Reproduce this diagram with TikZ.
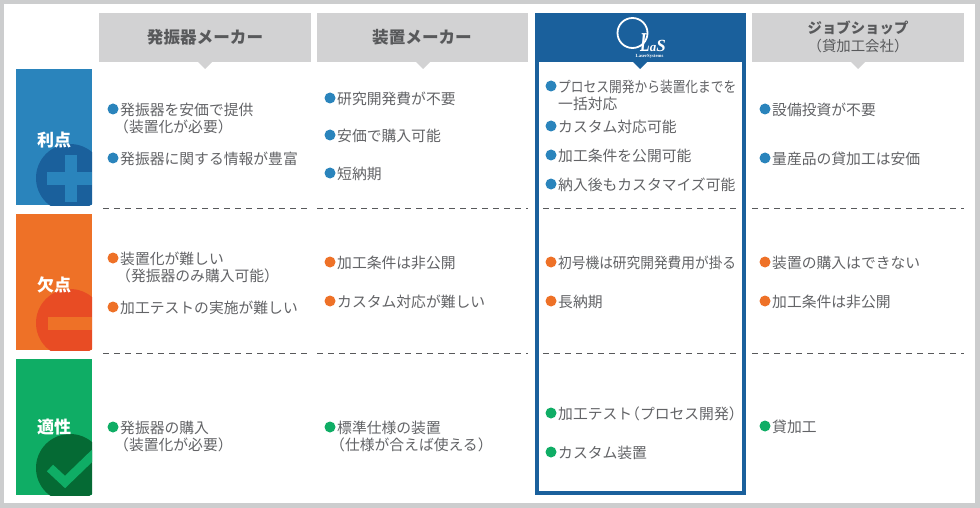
\documentclass[tikz,border=0pt]{standalone}
\usepackage{fontspec}
\setmainfont{Noto Sans CJK JP}
\newfontfamily\lasfont{Liberation Serif}
\definecolor{framegray}{HTML}{CCCDCE}
\definecolor{headgray}{HTML}{D2D2D3}
\definecolor{inkgray}{HTML}{58595B}
\definecolor{itemgray}{HTML}{626366}
\definecolor{lasblue}{HTML}{1A609C}
\definecolor{plusblue}{HTML}{2A84BC}
\definecolor{minusorange}{HTML}{EE7127}
\definecolor{minusred}{HTML}{E84C24}
\definecolor{fitgreen}{HTML}{0FAD65}
\definecolor{fitdark}{HTML}{056A34}
\tikzset{
	headtext/.style={text=inkgray,font=\fontsize{16.6}{18}\selectfont\bfseries,align=center},
	rowtext/.style={text=white,font=\fontsize{17}{19}\selectfont\bfseries},
	itemtext/.style={anchor=west,inner sep=0pt,yshift=-0.8pt,text=itemgray,align=left,font=\fontsize{14.8}{17}\selectfont},
	dot/.style={circle,inner sep=0pt,minimum size=11pt},
	dotblue/.style={dot,fill=plusblue},
	dotorange/.style={dot,fill=minusorange},
	dotgreen/.style={dot,fill=fitgreen},
	rowline/.style={inkgray,line width=0.9pt,dash pattern=on5.5pt off5.5pt}
}

\begin{document}
\begin{tikzpicture}[x=1pt,y=-1pt]
	\useasboundingbox (0,0) rectangle (980,508);
	% frame
	\fill[framegray] (0,0) rectangle (980,508);
	\fill[white] (4,4) rectangle (975,503);
	% headers
	\fill[headgray] (99,13) rectangle (311,62);
	\fill[headgray] (198,62) -- (212,62) -- (205,69) -- cycle;
	\fill[headgray] (317,13) rectangle (528,62);
	\fill[headgray] (416,62) -- (430,62) -- (423,69) -- cycle;
	\fill[headgray] (752,13) rectangle (964,62);
	\fill[headgray] (851,62) -- (865,62) -- (858,69) -- cycle;
	\node[headtext] (oscillator) at (205,37) {発振器メーカー};
	\node[headtext] (equipment) at (422,37) {装置メーカー};
	\node[headtext,font=\fontsize{14.4}{16}\selectfont\bfseries] (jobshop) at (858,28) {ジョブショップ};
	\node[headtext,font=\fontsize{14.4}{16}\selectfont] (jobshopsub) at (858,46) {（貸加工会社）};
	% las column
	\fill[lasblue] (535,13) rectangle (746,495);
	\fill[white] (539,62) rectangle (742,491);
	\fill[lasblue] (633,62) -- (647,62) -- (640,69) -- cycle;
	\draw[white,line width=1.8pt] (632.5,33) circle (15);
	\node[text=white,inner sep=0pt,anchor=base west,font=\lasfont\bfseries\itshape\fontsize{21}{21}\selectfont] (las) at (640,51.5) {\scalebox{.75}[1.3]{L}{\fontsize{13}{13}\selectfont a}{\fontsize{17}{17}\selectfont S}};
	\node[text=white,inner sep=0pt,font=\lasfont\bfseries\fontsize{4.7}{5}\selectfont] (lassub) at (649.5,56.5) {LaserSystems};
	% row boxes
	\fill[plusblue] (16,69) rectangle (92,205);
	\begin{scope}
		\clip (16,69) rectangle (92,205);
		\fill[lasblue] (70,178) circle (34);
		\fill[plusblue] (47,172.5) rectangle (92,185);
		\fill[plusblue] (64.5,155) rectangle (77,202);
	\end{scope}
	\fill[minusorange] (16,214) rectangle (92,350);
	\begin{scope}
		\clip (16,214) rectangle (92,350);
		\fill[minusred] (70,323) circle (34);
		\fill[minusorange] (47.5,317) rectangle (92,329.5);
	\end{scope}
	\fill[fitgreen] (16,359) rectangle (92,495);
	\begin{scope}
		\clip (16,359) rectangle (92,495);
		\fill[fitdark] (70,468) circle (34);
		\draw[fitgreen,line width=9pt] (50,468) -- (65,482) -- (95,453);
	\end{scope}
	\node[rowtext] (plus) at (54,140) {利点};
	\node[rowtext] (minus) at (54,285) {欠点};
	\node[rowtext] (fit) at (54,427) {適性};
	% dashed rows
	\draw[rowline] (103,208.5) -- (311,208.5);
	\draw[rowline] (317,208.5) -- (528,208.5);
	\draw[rowline] (543,208.5) -- (738,208.5);
	\draw[rowline] (752,208.5) -- (964,208.5);
	\draw[rowline] (103,353.5) -- (311,353.5);
	\draw[rowline] (317,353.5) -- (528,353.5);
	\draw[rowline] (543,353.5) -- (738,353.5);
	\draw[rowline] (752,353.5) -- (964,353.5);
	% plus row
	\node[dotblue] (d11) at (113,109) {};
	\node[itemtext] (t11) at (120,117.5) {発振器を安価で提供\\\hspace*{-6pt}（装置化が必要）};
	\node[dotblue] (d12) at (113,158) {};
	\node[itemtext] (t12) at (120,158) {発振器に関する情報が豊富};
	\node[dotblue] (d21) at (330,98) {};
	\node[itemtext] (t21) at (337,98) {研究開発費が不要};
	\node[dotblue] (d22) at (330,135) {};
	\node[itemtext] (t22) at (337,135) {安価で購入可能};
	\node[dotblue] (d23) at (330,173) {};
	\node[itemtext] (t23) at (337,173) {短納期};
	\node[dotblue] (d31) at (551,86) {};
	\node[itemtext] (t31) at (558,86) {\scalebox{.86}[1]{プロセス開発から装置化までを}};
	\node[itemtext] (t31b) at (558,103) {一括対応};
	\node[dotblue] (d32) at (551,126) {};
	\node[itemtext] (t32) at (558,126) {カスタム対応可能};
	\node[dotblue] (d33) at (551,155) {};
	\node[itemtext] (t33) at (558,155) {加工条件を公開可能};
	\node[dotblue] (d34) at (551,184) {};
	\node[itemtext] (t34) at (558,184) {納入後もカスタマイズ可能};
	\node[dotblue] (d41) at (765,109) {};
	\node[itemtext] (t41) at (772,109) {設備投資が不要};
	\node[dotblue] (d42) at (765,158) {};
	\node[itemtext] (t42) at (772,158) {量産品の貸加工は安価};
	% minus row
	\node[dotorange] (e11) at (113,258) {};
	\node[itemtext] (u11) at (120,266.5) {装置化が難しい\\\hspace*{-4pt}（発振器のみ購入可能）};
	\node[dotorange] (e12) at (113,307) {};
	\node[itemtext] (u12) at (120,307) {加工テストの実施が難しい};
	\node[dotorange] (e21) at (330,262) {};
	\node[itemtext] (u21) at (337,262) {加工条件は非公開};
	\node[dotorange] (e22) at (330,301) {};
	\node[itemtext] (u22) at (337,301) {カスタム対応が難しい};
	\node[dotorange] (e31) at (551,262) {};
	\node[itemtext] (u31) at (558,262) {\scalebox{.925}[1]{初号機は研究開発費用が掛る}};
	\node[dotorange] (e32) at (551,301) {};
	\node[itemtext] (u32) at (558,301) {長納期};
	\node[dotorange] (e41) at (765,262) {};
	\node[itemtext] (u41) at (772,262) {装置の購入はできない};
	\node[dotorange] (e42) at (765,301) {};
	\node[itemtext] (u42) at (772,301) {加工条件は非公開};
	% fit row
	\node[dotgreen] (f11) at (113,427) {};
	\node[itemtext] (v11) at (120,435.5) {発振器の購入\\\hspace*{-6pt}（装置化が必要）};
	\node[dotgreen] (f21) at (330,427) {};
	\node[itemtext] (v21) at (337,435.5) {標準仕様の装置\\\hspace*{-7pt}（仕様が合えば使える）};
	\node[dotgreen] (f31) at (551,413) {};
	\node[itemtext] (v31) at (558,413) {加工テスト\hspace{-7pt}（プロセス開発）};
	\node[dotgreen] (f32) at (551,452) {};
	\node[itemtext] (v32) at (558,452) {カスタム装置};
	\node[dotgreen] (f41) at (765,426) {};
	\node[itemtext] (v41) at (772,426) {貸加工};
\end{tikzpicture}
\end{document}
